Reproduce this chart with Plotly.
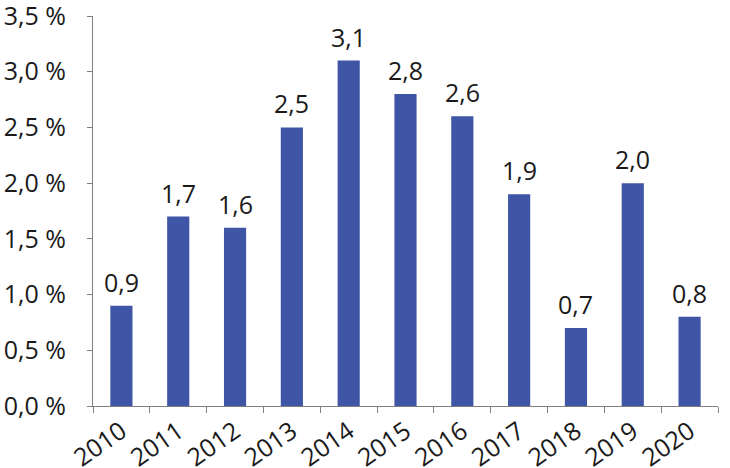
import plotly.graph_objects as go

years = ["2010", "2011", "2012", "2013", "2014", "2015", "2016", "2017", "2018", "2019", "2020"]
values = [0.9, 1.7, 1.6, 2.5, 3.1, 2.8, 2.6, 1.9, 0.7, 2.0, 0.8]
y_ticks = [0, 0.5, 1.0, 1.5, 2.0, 2.5, 3.0, 3.5]
y_labels = ["0,0 %", "0,5 %", "1,0 %", "1,5 %", "2,0 %", "2,5 %", "3,0 %", "3,5 %"]

bar_text = [f"{v:.1f}".replace(".", ",") for v in values]
FONT = "Open Sans"
TXT = "#1a1a1a"
AXC = "#7f7f7f"

fig = go.Figure()
fig.add_trace(go.Bar(
    x=years,
    y=values,
    marker=dict(color="#3F55A6", line=dict(width=0)),
    hoverinfo="x+y",
))

# value labels above bars (category index as x), a bit higher than plotly's own outside text
for i, (v, t) in enumerate(zip(values, bar_text)):
    fig.add_annotation(
        x=i, y=v, text=t,
        xref="x", yref="y",
        showarrow=False,
        yanchor="bottom",
        yshift=5,
        font=dict(family=FONT, size=25, color=TXT),
    )

fig.update_layout(
    width=730,
    height=468,
    margin=dict(l=93, r=12, t=16, b=62),
    plot_bgcolor="white",
    paper_bgcolor="white",
    bargap=0.61,
    showlegend=False,
    font=dict(family=FONT, size=25, color=TXT),
    xaxis=dict(
        type="category",
        range=[-0.5, len(years) - 0.5],
        tickson="boundaries",
        ticks="outside",
        ticklen=6,
        tickcolor=AXC,
        showline=True,
        linecolor=AXC,
        linewidth=1,
        tickangle=-35,
        automargin=False,
        ticklabeloverflow="allow",
        tickfont=dict(family=FONT, size=25, color=TXT),
        showgrid=False,
    ),
    yaxis=dict(
        range=[0, 3.5],
        tickvals=y_ticks,
        ticktext=y_labels,
        ticks="outside",
        ticklen=5,
        ticklabelstandoff=16,
        ticklabeloverflow="allow",
        tickcolor=AXC,
        showline=True,
        linecolor=AXC,
        linewidth=1,
        showgrid=False,
        zeroline=False,
        automargin=False,
        tickfont=dict(family=FONT, size=25, color=TXT),
    ),
)

# page body has a default margin, drop it so the figure sits at the corner
fig.write_html("out.html", config={"displayModeBar": False},
               post_script="document.body.style.margin='0';")
